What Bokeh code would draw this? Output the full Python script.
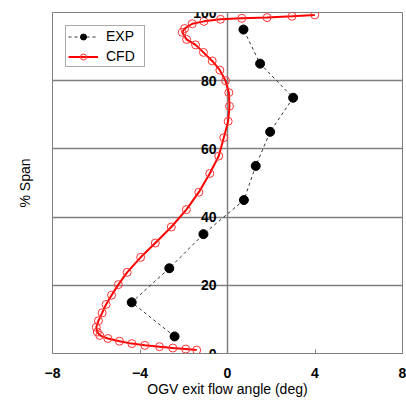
from bokeh.plotting import figure
from bokeh.models import Range1d, FixedTicker, LabelSet, ColumnDataSource, Legend, LegendItem
from bokeh.core.properties import value
from bokeh.embed import file_html
from bokeh.resources import INLINE

# ---- data ----
exp_span = [5, 15, 25, 35, 45, 55, 65, 75, 85, 95]
exp_angle = [-2.42, -4.38, -2.66, -1.1, 0.75, 1.29, 1.95, 3.0, 1.49, 0.73]

cfd_span = [1.0, 1.3, 1.6, 2.0, 2.4, 2.9, 3.6, 4.4, 5.3, 6.3, 7.7, 9.6, 11.9, 14.4,
            17.1, 20.2, 23.8, 28.2, 32.4, 37.1, 42.2, 47.3, 52.8, 57.9, 63.3, 68.1,
            72.5, 76.5, 80.0, 83.1, 85.8, 88.3, 90.5, 92.1, 94.2, 95.3, 96.7, 97.4,
            98.0, 98.3, 98.5, 98.9, 99.3]
cfd_angle = [-1.41, -1.91, -2.50, -3.11, -3.78, -4.37, -4.94, -5.47, -5.84, -5.95,
             -6.0, -5.9, -5.73, -5.55, -5.30, -4.99, -4.59, -3.97, -3.30, -2.57,
             -1.88, -1.31, -0.81, -0.40, -0.17, 0.03, 0.09, 0.06, -0.09, -0.35,
             -0.70, -1.10, -1.46, -1.87, -2.07, -1.96, -1.61, -1.08, -0.32, 0.65,
             1.81, 2.95, 3.99]

x_ticks = [-8, -4, 0, 4, 8]
y_ticks = [0, 20, 40, 60, 80, 100]
y_tick_labels = ["0", "20", "40", "60", "80", "100"]

FONT = "Liberation Sans"
GRAY = "#7f7f7f"

p = figure(width=406, height=400, output_backend="svg", toolbar_location=None,
           x_range=Range1d(-8, 8), y_range=Range1d(0, 100),
           min_border_left=52, min_border_right=4, min_border_top=12, min_border_bottom=47)
p.background_fill_color = "white"
p.border_fill_color = "white"
p.outline_line_color = GRAY
p.outline_line_width = 1

# grids
p.ygrid.ticker = FixedTicker(ticks=y_ticks[1:-1])
p.ygrid.grid_line_color = GRAY
p.ygrid.grid_line_width = 1.5
p.xgrid.ticker = FixedTicker(ticks=[0])
p.xgrid.grid_line_color = GRAY
p.xgrid.grid_line_width = 1.5

# x axis
p.xaxis.ticker = FixedTicker(ticks=x_ticks)
p.xaxis.major_tick_in = 4
p.xaxis.major_tick_out = 0
p.xaxis.minor_tick_line_color = None
p.xaxis.axis_line_color = GRAY
p.xaxis.major_tick_line_color = GRAY
p.xaxis.major_label_standoff = 14
p.xaxis.major_label_text_font = FONT
p.xaxis.major_label_text_font_size = "14px"
p.xaxis.major_label_text_font_style = "bold"
p.xaxis.major_label_text_color = "black"
p.xaxis.axis_label = "OGV exit flow angle (deg)"
p.xaxis.axis_label_text_font = FONT
p.xaxis.axis_label_text_font_size = "14px"
p.xaxis.axis_label_text_font_style = "normal"
p.xaxis.axis_label_text_color = "black"
p.xaxis.axis_label_standoff = 0

# y axis (label only)
p.yaxis.ticker = FixedTicker(ticks=[])
p.yaxis.major_label_text_font_size = "0px"
p.yaxis.major_tick_out = 0
p.yaxis.major_tick_in = 0
p.yaxis.minor_tick_line_color = None
p.yaxis.axis_line_color = None
p.yaxis.major_label_standoff = 0
p.yaxis.axis_label = "% Span"
p.yaxis.axis_label_text_font = FONT
p.yaxis.axis_label_text_font_size = "14px"
p.yaxis.axis_label_text_font_style = "normal"
p.yaxis.axis_label_text_color = "black"
p.yaxis.axis_label_standoff = 20

# y tick labels on the x=0 axis
src = ColumnDataSource(dict(x=[0] * len(y_ticks), y=y_ticks, t=y_tick_labels))
p.add_layout(LabelSet(x="x", y="y", text="t", source=src, x_offset=-11,
                      text_align="right", text_baseline="middle",
                      text_font=value(FONT), text_font_size="14px",
                      text_font_style="bold", text_color="black"))

# series
el = p.line(exp_angle, exp_span, line_color="#333333", line_width=1, line_dash="3 3")
es = p.scatter(exp_angle, exp_span, marker="circle", size=9, fill_color="black", line_color="black")
cl = p.line(cfd_angle, cfd_span, line_color="#ff0000", line_width=2)
cs = p.scatter(cfd_angle, cfd_span, marker="circle", size=8, fill_color=None,
               line_color="#ff3333", line_width=1)

legend = Legend(items=[LegendItem(label="EXP", renderers=[el, es]),
                       LegendItem(label="CFD", renderers=[cl, cs])],
                location="top_left", padding=2, margin=13, spacing=4,
                glyph_width=30, glyph_height=15, label_height=15, label_standoff=8,
                label_width=36,
                label_text_font=FONT, label_text_font_size="14px", label_text_color="black",
                border_line_color="#555555", border_line_width=1,
                background_fill_alpha=1)
p.add_layout(legend)

open("out.html", "w").write(file_html(p, INLINE))
